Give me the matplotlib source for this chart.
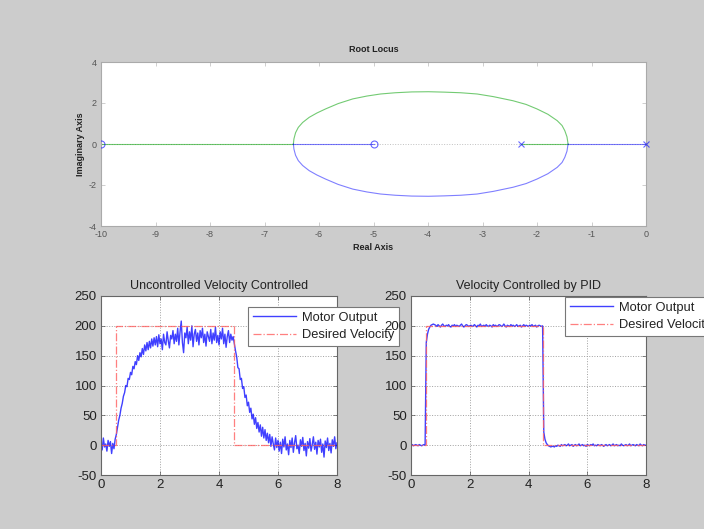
import numpy as np
import matplotlib
matplotlib.use("Agg")
import matplotlib.pyplot as plt

plt.rcParams['font.family'] = ['Liberation Sans', 'DejaVu Sans']
plt.rcParams['axes.unicode_minus'] = False

# ---------------- data ----------------
# Root locus
arc_real = [-6.47, -6.46, -6.43, -6.38, -6.30, -6.18, -6.04, -5.88, -5.65, -5.38, -5.12, -4.87,
            -4.60, -4.30, -3.99, -3.70, -3.40, -3.10, -2.80, -2.44, -2.20, -2.00, -1.80, -1.63,
            -1.54, -1.49, -1.45, -1.43]
arc_imag = [0.00, 0.25, 0.55, 0.81, 1.05, 1.30, 1.51, 1.71, 1.97, 2.20, 2.34, 2.44,
            2.50, 2.54, 2.55, 2.53, 2.50, 2.44, 2.31, 2.11, 1.93, 1.71, 1.45, 1.14,
            0.90, 0.65, 0.35, 0.00]
green_axis_segments = [(-10.0, -6.47), (-2.3, -1.43)]
blue_axis_segments = [(-6.47, -5.0), (-1.43, 0.0)]
zeros_real = [-10.0, -5.0]
poles_real = [-2.3, 0.0]

# Velocity responses (sampled every 0.04 s, 0..8 s)
dt = 0.04
uncontrolled = [
    5, -8, 12, -3, 2, -10, 8, -2, 6, -14, 3, -6, 10,
    18, 30, 42, 50, 62, 70, 82, 88, 100, 98,
    112, 110, 122, 118, 132, 128, 140, 135, 150, 142,
    155, 148, 162, 152, 168, 158, 172, 160, 174, 163,
    178, 166, 180, 168,
    182, 165, 185, 170, 178, 160, 186, 172, 168, 190,
    175, 163, 184, 178, 192, 170, 186, 174, 196, 168,
    190, 208, 172, 155, 188, 180, 198, 170, 190, 176,
    200, 165, 186, 194, 174, 188, 168, 192, 180, 196,
    172, 186, 166, 190, 182, 174, 194, 170, 188, 176,
    198, 172, 184, 168, 190, 178, 196, 170, 186, 164,
    182, 192, 172, 186, 176, 182,
    170, 158, 148, 130, 128, 110, 112, 95, 98, 80,
    84, 66, 72, 55, 62, 44, 52, 35, 46, 28,
    38, 22, 34, 15, 30, 12, 26, 8, 20, 4,
    18, -2, 14, 2, -8, 12, -4, 8,
    -10, 5, -14, 10, -3, 14, -8, 2, -16, 8,
    -4, 12, -12, 4, 16, -6, 0, -14, 9, -2,
    13, -9, 3, -18, 6, -5, 11, -10, 1, 14,
    -7, 5, -15, 8, -3, 10, -12, 2, -20, 7,
    -4, 12, -9, 3, -13, 9, -2, 14, -6, 4,
]
pid = [
    0, 1, -1, 0, 1, 0, -1, 1, 0, -1, 0, 1, 0,
    172, 186, 194, 198, 201, 202, 203, 202,
    201, 199, 202, 200, 198, 201, 203, 200, 199, 201,
    200, 202, 199, 198, 201, 200, 202, 199, 201, 200,
    199, 201, 203, 200, 198, 200, 202, 201, 199, 200,
    201, 199, 200, 202, 200, 198, 201, 200, 203, 199,
    200, 201, 199, 202, 200, 199, 201, 200, 198, 202,
    200, 201, 199, 200, 202, 201, 199, 200, 203, 200,
    198, 201, 200, 199, 202, 200, 201, 199, 200, 202,
    199, 200, 201, 198, 200, 202, 199, 201, 200, 199,
    201, 200, 202, 199, 200, 201, 198, 200, 201, 200,
    199, 200,
    22, 10, 4, 1, -1, -2, -3, -2,
    -2, -3, -1, -2, 0, -1, -2, 1, -1, 0,
    1, -1, 0, 2, -1, 0, 1, -2, 0, 1,
    -1, 0, 2, -1, 0, 1, -1, 0, -2, 1,
    0, -1, 1, 0, 2, -1, 0, -1, 1, 0,
    -1, 1, 0, -2, 0, 1, -1, 0, 1, -1,
    0, 2, -1, 0, 1, -1, 0, -1, 2, 0,
    -1, 0, 1, -1, 0, 2, -1, 0, 1, 0,
    -1, 1, 0, -1, 2, 0, -1, 1, 0, 0,
]
desired_t = [0, 0.5, 0.5, 4.5, 4.5, 8]
desired_v = [0, 0, 200, 200, 0, 0]

legend_labels = ['Motor Output', 'Desired Velocity']

# ---------------- figure ----------------
W, H = 704, 529
fig = plt.figure(figsize=(W / 100, H / 100), dpi=100, facecolor='#cccccc')

def fr(x0, y0, x1, y1):
    return [x0 / W, 1 - y1 / H, (x1 - x0) / W, (y1 - y0) / H]

BLUE = '#0000ff'
GREEN = '#00a000'
RED = '#ff6060'

# ---- Root locus ----
ax = fig.add_axes(fr(101, 62, 646, 226))
ax.axhline(0, color='#c0c0c0', ls=':', lw=0.7, zorder=1)
for a, b in green_axis_segments:
    ax.plot([a, b], [0, 0], color=GREEN, lw=0.8, alpha=0.55, zorder=2)
for a, b in blue_axis_segments:
    ax.plot([a, b], [0, 0], color=BLUE, lw=0.8, alpha=0.5, zorder=2)
ax.plot(arc_real, arc_imag, color=GREEN, lw=0.8, alpha=0.55, zorder=2)
ax.plot(arc_real, [-v for v in arc_imag], color=BLUE, lw=0.8, alpha=0.5, zorder=2)
ax.plot(zeros_real, [0] * len(zeros_real), ls='none', marker='o', ms=5, mfc='none',
        mec=BLUE, mew=0.8, alpha=0.6, zorder=3)
ax.plot(poles_real, [0] * len(poles_real), ls='none', marker='x', ms=4,
        mec=BLUE, mew=0.8, alpha=0.6, zorder=3, clip_on=False)
ax.set_xlim(-10, 0)
ax.set_ylim(-4, 4)
ax.set_xticks(range(-10, 1))
ax.set_yticks([-4, -2, 0, 2, 4])
ax.tick_params(direction='in', top=True, right=True, length=3, width=0.5,
               labelsize=6.5, colors='#bbbbbb', labelcolor='#555555', pad=3)
for s in ax.spines.values():
    s.set_color('#aaaaaa')
    s.set_linewidth(0.8)
ax.set_title('Root Locus', fontsize=6.5, fontweight='bold', pad=7, color='#222222')
ax.set_xlabel('Real Axis', fontsize=6.5, fontweight='bold', labelpad=3, color='#222222')
ax.set_ylabel('Imaginary Axis', fontsize=6.5, fontweight='bold', labelpad=3, color='#222222')

def style_bottom(ax, title):
    ax.set_xlim(0, 8)
    ax.set_ylim(-50, 250)
    ax.set_xticks([0, 2, 4, 6, 8])
    ax.set_yticks(range(-50, 251, 50))
    ax.grid(True, ls=':', color='#a0a0a0', lw=0.7)
    ax.tick_params(direction='in', top=True, right=True, length=3, width=0.5,
                   labelsize=9.5, colors='#555555', labelcolor='#222222', pad=3)
    for s in ax.spines.values():
        s.set_color('#666666')
        s.set_linewidth(0.8)
    ax.set_title(title, fontsize=9, pad=5, color='#222222')

def add_legend(ax, handles, x, y):
    leg = ax.legend(handles, legend_labels, loc='upper left',
                    bbox_to_anchor=(x / W, 1 - y / H), bbox_transform=fig.transFigure,
                    fontsize=9.3, fancybox=False, framealpha=1, edgecolor='#777777',
                    borderpad=0.35, handlelength=3.4, labelspacing=0.45, handletextpad=0.4,
                    borderaxespad=0)
    leg.get_frame().set_linewidth(0.8)
    for txt in leg.get_texts():
        txt.set_color('#222222')
    leg.set_zorder(10)
    return leg

# ---- Uncontrolled ----
t1 = np.arange(len(uncontrolled)) * dt
ax1 = fig.add_axes(fr(101, 296, 337, 475))
l1, = ax1.plot(t1, uncontrolled, color=BLUE, lw=1.0, alpha=0.75)
l2, = ax1.plot(desired_t, desired_v, color=RED, ls='-.', lw=0.9, alpha=0.8)
style_bottom(ax1, 'Uncontrolled Velocity Controlled')
add_legend(ax1, [l1, l2], 248, 307)

# ---- PID ----
t2 = np.arange(len(pid)) * dt
ax2 = fig.add_axes(fr(411, 296, 646, 475))
m1, = ax2.plot(t2, pid, color=BLUE, lw=1.0, alpha=0.75)
m2, = ax2.plot(desired_t, desired_v, color=RED, ls='-.', lw=0.9, alpha=0.8)
style_bottom(ax2, 'Velocity Controlled by PID')
add_legend(ax2, [m1, m2], 565, 297)

fig.savefig('out.png', dpi=100, facecolor=fig.get_facecolor())
